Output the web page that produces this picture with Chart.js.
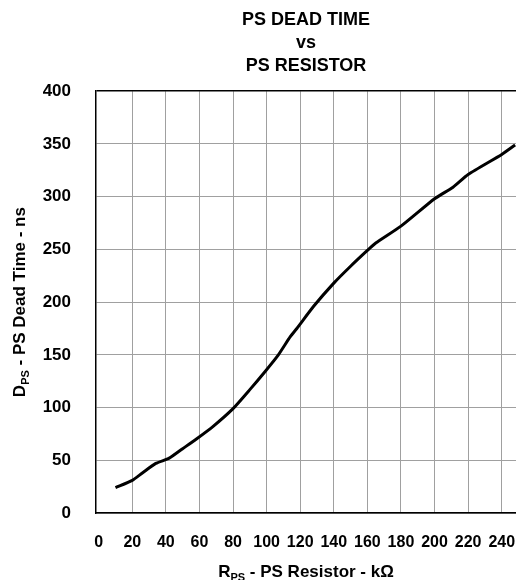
<!DOCTYPE html>
<html>
<head>
<meta charset="utf-8">
<script src="https://cdn.jsdelivr.net/npm/chart.js@4.4.0/dist/chart.umd.min.js"></script>
<style>
  body { margin: 0; background: #fff; }
  #wrap { width: 516px; height: 580px; }
</style>
</head>
<body>
<div id="wrap"><canvas id="myChart" width="516" height="580"></canvas></div>
<script>
// PS resistor (kOhm) and dead time (ns)
var resistor = [10, 20, 26, 34, 42, 50, 58, 68, 80, 90, 99, 107, 114, 118, 128, 140, 150, 160, 165, 180, 200, 211, 220, 240, 248];
var deadTime = [24, 31, 38, 47, 52, 61, 70, 82, 99, 117, 134, 150, 167, 175, 196, 218, 234, 249, 256, 272, 298, 309, 321, 340, 349];

var titleLines = ['PS DEAD TIME', 'vs', 'PS RESISTOR'];
var xTitle = [['R', false], ['PS', true], [' - PS Resistor - k\u03A9', false]];
var yTitle = [['D', false], ['PS', true], [' - PS Dead Time - ns', false]];

var FONT = 'Liberation Sans, Arial, sans-serif';

var points = resistor.map(function (r, i) { return { x: r, y: deadTime[i] }; });

// draws a title with subscript parts, centred on (cx, cy)
function drawSubText(c, parts, cx, cy, rot) {
  var big = 'bold 17px ' + FONT, small = 'bold 11px ' + FONT;
  c.save();
  c.translate(cx, cy);
  if (rot) c.rotate(-Math.PI / 2);
  c.textBaseline = 'alphabetic';
  c.textAlign = 'left';
  c.fillStyle = '#000';
  var total = 0;
  parts.forEach(function (p) {
    c.font = p[1] ? small : big;
    total += c.measureText(p[0]).width;
  });
  var x = -total / 2;
  parts.forEach(function (p) {
    c.font = p[1] ? small : big;
    c.fillText(p[0], x, p[1] ? 10 : 6);
    x += c.measureText(p[0]).width;
  });
  c.restore();
}

var axisTitles = {
  id: 'axisTitles',
  afterDraw: function (chart) {
    var a = chart.chartArea, c = chart.ctx;
    drawSubText(c, xTitle, (a.left + a.right) / 2, 571, false);
    drawSubText(c, yTitle, 19, (a.top + a.bottom) / 2, true);
  }
};

var ctx = document.getElementById('myChart');
var myChart = new Chart(ctx, {
  type: 'line',
  data: {
    datasets: [{
      data: points,
      borderColor: '#000',
      borderWidth: 3,
      pointRadius: 0,
      tension: 0.2,
      fill: false
    }]
  },
  options: {
    responsive: false,
    animation: false,
    layout: { padding: { left: 0, right: 0, top: 0, bottom: 0 } },
    plugins: {
      legend: { display: false },
      tooltip: { enabled: false },
      title: {
        display: true,
        fullSize: false,
        text: titleLines,
        color: '#000',
        font: { family: FONT, size: 18, weight: 'bold', lineHeight: 1.3 },
        padding: { top: 8, bottom: 13 }
      }
    },
    scales: {
      x: {
        type: 'linear',
        min: -1.6,
        max: 248.5,
        afterFit: function (s) { s.height = 67; s.paddingLeft = 0; s.paddingRight = 0; },
        ticks: {
          stepSize: 20,
          includeBounds: false,
          color: '#000',
          padding: 20,
          maxRotation: 0,
          autoSkip: false,
          font: { family: FONT, size: 16, weight: 'bold' }
        },
        grid: {
          drawTicks: false,
          color: function (c) { return c.tick && c.tick.value === 0 ? 'rgba(0,0,0,0)' : '#a0a0a0'; },
          lineWidth: 1
        },
        border: { color: '#000', width: 1.5 }
      },
      y: {
        min: 0,
        max: 400,
        afterFit: function (s) { s.width = 96; },
        ticks: {
          stepSize: 50,
          color: '#000',
          padding: 25,
          font: { family: FONT, size: 17, weight: 'bold' }
        },
        grid: {
          drawTicks: false,
          color: function (c) { return c.tick && c.tick.value === 400 ? '#000' : '#a0a0a0'; },
          lineWidth: function (c) { return c.tick && c.tick.value === 400 ? 1.5 : 1; }
        },
        border: { color: '#000', width: 1.5 }
      }
    }
  },
  plugins: [axisTitles]
});
</script>
</body>
</html>
